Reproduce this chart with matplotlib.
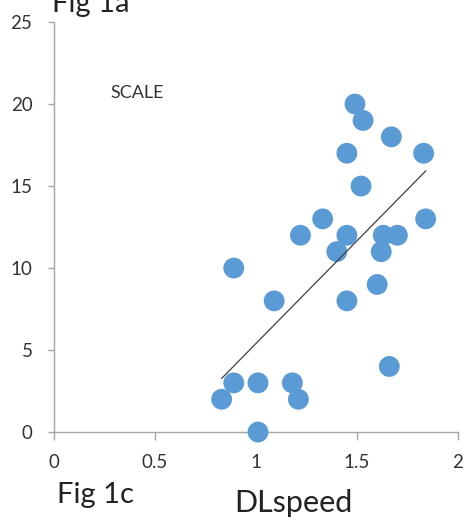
import numpy as np
import matplotlib
matplotlib.use("Agg")
import matplotlib.pyplot as plt

plt.rcParams['font.family'] = ['Lato', 'DejaVu Sans']

# DLspeed vs scale score
dlspeed = [1.49, 1.53, 1.67, 1.45, 1.83, 1.52, 1.33, 1.84, 1.22, 1.45, 1.63, 1.70,
           1.40, 1.62, 0.89, 1.09, 1.45, 1.60, 1.66, 0.89, 1.01, 1.18, 0.83, 1.21, 1.01]
scale = [20, 19, 18, 17, 17, 15, 13, 13, 12, 12, 12, 12,
         11, 11, 10, 8, 8, 9, 4, 3, 3, 3, 2, 2, 0]

xticks = [0, 0.5, 1, 1.5, 2]
xticklabels = ['0', '0.5', '1', '1.5', '2']
yticks = [0, 5, 10, 15, 20, 25]

fig = plt.figure(figsize=(4.71, 5.25), dpi=100)
ax = fig.add_axes([0.1146, 0.177, 0.8578, 0.781])

ax.scatter(dlspeed, scale, s=225, color='#5B9BD5', edgecolors='none', zorder=3, clip_on=False)

# linear trendline over the data range
m, b = np.polyfit(dlspeed, scale, 1)
xs = np.array([min(dlspeed), max(dlspeed)])
ax.plot(xs, m * xs + b, color='#404040', lw=0.9, zorder=4)

ax.set_xlim(0, 2)
ax.set_ylim(0, 25)
ax.set_xticks(xticks)
ax.set_xticklabels(xticklabels)
ax.set_yticks(yticks)

for s in ['top', 'right']:
    ax.spines[s].set_visible(False)
for s in ['left', 'bottom']:
    ax.spines[s].set_color('#A6A6A6')
    ax.spines[s].set_linewidth(1.0)
ax.tick_params(axis='both', colors='#A6A6A6', labelcolor='#333333', labelsize=13.5, width=1.0)
ax.tick_params(axis='y', length=4.5, pad=11)
ax.tick_params(axis='x', length=6, pad=10)

ax.text(0.28, 20.2, 'SCALE', fontsize=13, color='#333333', va='bottom', ha='left')

fig.text(0.110, 1 - 12 / 525, 'Fig 1a', fontsize=21, color='#222222', va='baseline')
fig.text(0.121, 1 - 503 / 525, 'Fig 1c', fontsize=21, color='#222222', va='baseline')
fig.text(0.622, 1 - 512 / 525, 'DLspeed', fontsize=22, color='#222222', va='baseline', ha='center')

fig.savefig('out.png', dpi=100)
